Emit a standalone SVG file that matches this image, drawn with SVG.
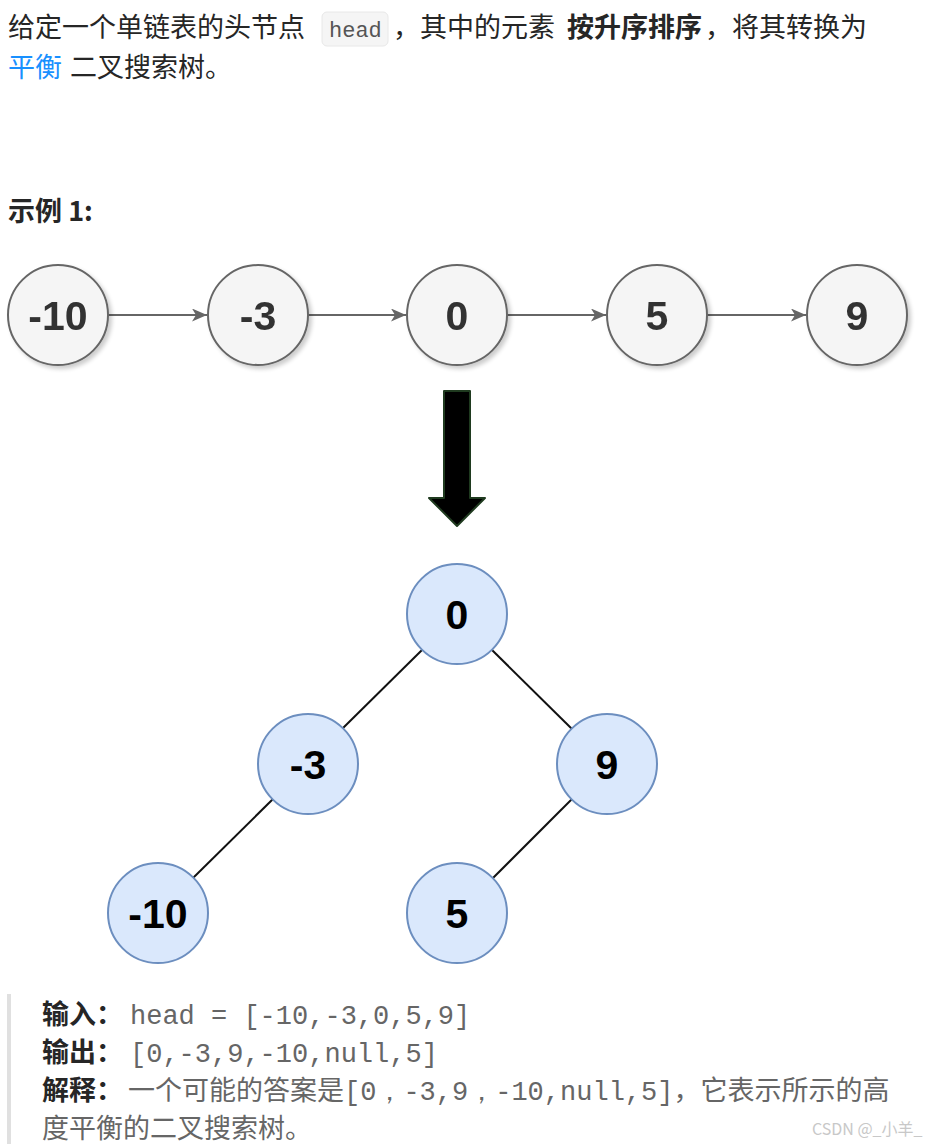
<svg xmlns="http://www.w3.org/2000/svg" width="934" height="1144" viewBox="0 0 934 1144">
<style>
.t{font-family:"Noto Sans CJK SC","Noto Sans",sans-serif;font-size:27px;fill:#262626}
.b{font-weight:bold}
.mono{font-family:"Liberation Mono","DejaVu Sans Mono",monospace;font-size:27px;fill:#666}
.ln{fill:#f5f5f5;stroke:#666;stroke-width:2}
.tn{fill:#dae8fc;stroke:#6c8ebf;stroke-width:2}
.lbl{font-family:"Liberation Sans",Arial,sans-serif;font-weight:bold;font-size:41px;text-anchor:middle}
.edge{stroke:#666;stroke-width:2;fill:none}
.tedge{stroke:#111;stroke-width:2;fill:none}
</style>
<defs>
<marker id="ah" viewBox="0 0 15 13" refX="15" refY="6.5" markerWidth="15" markerHeight="13" orient="auto" markerUnits="userSpaceOnUse">
<path d="M0,0 L15,6.5 L0,13 L4,6.5 z" fill="#666"/>
</marker>
<filter id="sh" x="-20%" y="-20%" width="150%" height="150%">
<feGaussianBlur in="SourceAlpha" stdDeviation="2"/>
<feOffset dx="3" dy="3" result="o"/>
<feComponentTransfer><feFuncA type="linear" slope="0.2"/></feComponentTransfer>
<feMerge><feMergeNode/><feMergeNode in="SourceGraphic"/></feMerge>
</filter>
</defs>
<rect width="934" height="1144" fill="#fff"/>
<g id="intro">
<text class="t" x="8" y="37">给定一个单链表的头节点</text>
<rect x="322" y="12" width="66" height="34" rx="5" fill="#f5f5f5" stroke="#e8e8e8"/>
<text x="329" y="37" style="font-family:'Liberation Mono','DejaVu Sans Mono',monospace;font-size:22px;fill:#555">head</text>
<text class="t" x="393" y="37">，其中的元素</text>
<text class="t b" x="567" y="37">按升序排序</text>
<text class="t" x="705" y="37">，将其转换为</text>
<text class="t" x="8" y="77" style="fill:#1890ff">平衡</text>
<text class="t" x="70" y="77">二叉搜索树。</text>
<text class="t b" x="8" y="221">示例 1:</text>
</g>
<g id="connectors">
<line class="edge" x1="108" y1="315" x2="207" y2="315" marker-end="url(#ah)"/>
<line class="edge" x1="308" y1="315" x2="406" y2="315" marker-end="url(#ah)"/>
<line class="edge" x1="507" y1="315" x2="606" y2="315" marker-end="url(#ah)"/>
<line class="edge" x1="707" y1="315" x2="806" y2="315" marker-end="url(#ah)"/>
<line class="tedge" x1="422" y1="650" x2="342" y2="729"/>
<line class="tedge" x1="492" y1="650" x2="572" y2="729"/>
<line class="tedge" x1="273" y1="799" x2="193" y2="878"/>
<line class="tedge" x1="572" y1="799" x2="493" y2="878"/>
</g>
<g id="l-10" filter="url(#sh)"><circle class="ln" cx="58" cy="315" r="50"/><text class="lbl" x="58" y="330" fill="#333">-10</text></g>
<g id="l-3" filter="url(#sh)"><circle class="ln" cx="258" cy="315" r="50"/><text class="lbl" x="258" y="330" fill="#333">-3</text></g>
<g id="l0" filter="url(#sh)"><circle class="ln" cx="457" cy="315" r="50"/><text class="lbl" x="457" y="330" fill="#333">0</text></g>
<g id="l5" filter="url(#sh)"><circle class="ln" cx="657" cy="315" r="50"/><text class="lbl" x="657" y="330" fill="#333">5</text></g>
<g id="l9" filter="url(#sh)"><circle class="ln" cx="857" cy="315" r="50"/><text class="lbl" x="857" y="330" fill="#333">9</text></g>
<g id="bigarrow">
<polygon points="444,391 470,391 470,498 485,498 457,526 429,498 444,498" fill="#000" stroke="#1f3a1f" stroke-width="2" stroke-linejoin="round"/>
</g>
<g id="t0"><circle class="tn" cx="457" cy="614" r="50"/><text class="lbl" x="457" y="629" fill="#000">0</text></g>
<g id="t-3"><circle class="tn" cx="308" cy="764" r="50"/><text class="lbl" x="308" y="779" fill="#000">-3</text></g>
<g id="t9"><circle class="tn" cx="607" cy="764" r="50"/><text class="lbl" x="607" y="779" fill="#000">9</text></g>
<g id="t-10"><circle class="tn" cx="158" cy="913" r="50"/><text class="lbl" x="158" y="928" fill="#000">-10</text></g>
<g id="t5"><circle class="tn" cx="457" cy="913" r="50"/><text class="lbl" x="457" y="928" fill="#000">5</text></g>
<g id="example">
<rect x="7" y="994" width="4" height="150" fill="#e0e0e0"/>
<text class="t b" x="42" y="1024">输入：</text>
<text class="mono" x="130" y="1024">head = [-10,-3,0,5,9]</text>
<text class="t b" x="42" y="1062">输出：</text>
<text class="mono" x="130" y="1062">[0,-3,9,-10,null,5]</text>
<text class="t b" x="42" y="1100">解释：</text>
<text x="128" y="1100" class="t" style="fill:#666">一个可能的答案是<tspan class="mono">[0，-3,9，-10,null,5]</tspan>，它表示所示的高</text>
<text class="t" x="42" y="1138" style="fill:#666">度平衡的二叉搜索树。</text>
<text x="812" y="1135" style="font-family:'Noto Sans CJK SC','Noto Sans',sans-serif;font-size:16px;fill:#c8c8c8">CSDN @_小羊_</text>
</g>
</svg>
